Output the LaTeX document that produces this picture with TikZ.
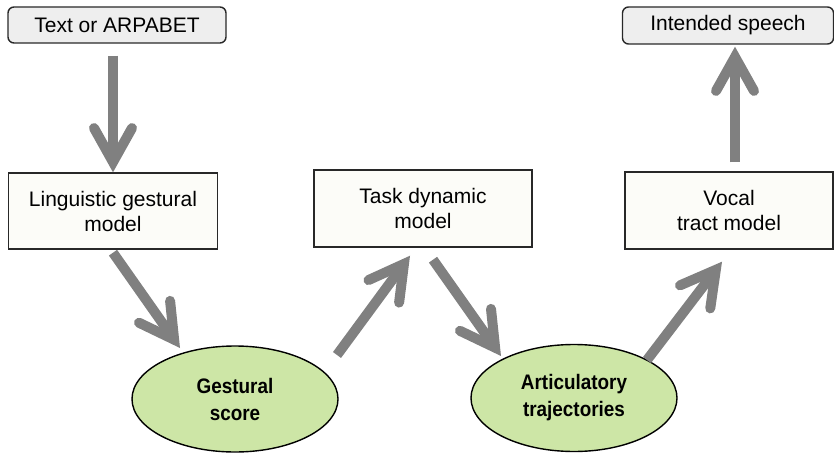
\documentclass[tikz,border=0pt]{standalone}
\usepackage{fontspec}
\setmainfont{Liberation Sans}
\newfontfamily\narrowsans[FakeStretch=0.9]{Liberation Sans}
\usetikzlibrary{shapes.geometric}
\usetikzlibrary{arrows.meta}
\usetikzlibrary{calc}

\definecolor{arrowgray}{RGB}{128,128,128}
\definecolor{scorefill}{RGB}{205,230,166}
\definecolor{boxfill}{RGB}{252,252,248}
\definecolor{termfill}{RGB}{238,238,238}
\definecolor{edgegray}{RGB}{40,40,40}

\tikzset{
  term/.style={draw=edgegray, line width=1.4pt, rounded corners=6pt, fill=termfill, inner sep=0pt, font=\fontsize{21}{25}\selectfont},
  model/.style={draw=edgegray, line width=1.4pt, fill=boxfill, align=center, inner sep=0pt, font=\fontsize{21}{25}\selectfont},
  score/.style={ellipse, draw=black, line width=1.4pt, fill=scorefill, align=center, inner sep=0pt, font=\narrowsans\bfseries\fontsize{21}{27}\selectfont},
  flow/.style={draw=arrowgray, line width=10pt, -{Straight Barb[length=34pt, width=38pt, line width=10pt, line cap=round, line join=miter]}}
}

\begin{document}
\begin{tikzpicture}[x=1pt, y=-1pt]
  \useasboundingbox (0,0) rectangle (834,454);
  % Boxes and ovals:
  \node[term, minimum width=218pt, minimum height=36pt] (textin) at (117,25) {Text or ARPABET};
  \node[term, minimum width=211pt, minimum height=37pt] (speech) at (728,25.5) {Intended speech};
  \node[model, minimum width=209pt, minimum height=76pt] (ling) at (113,211) {Linguistic gestural\\model};
  \node[model, minimum width=218pt, minimum height=77pt] (task) at (423,208.5) {Task dynamic\\model};
  \node[model, minimum width=208pt, minimum height=77pt] (vocal) at (729,210.5) {Vocal\\tract model};
  \node[score, minimum width=206pt, minimum height=106pt] (gest) at (235,399) {Gestural\\score};
  \node[score, minimum width=206pt, minimum height=107pt] (artic) at (574,398) {Articulatory\\trajectories};
  % Arrows:
  \draw[flow] ($(textin.south)+(-4,12)$) -- (ling.north);
  \draw[flow] ($(ling.south)+(0,3)$) -- ($(gest.center)+(-55,-51)$);
  \draw[flow] ($(gest.center)+(102,-44)$) -- ($(task.south)+(-13,8)$);
  \draw[flow] ($(task.south)+(10,12)$) -- ($(artic.center)+(-73,-42)$);
  \draw[flow] ($(artic.center)+(73,-38)$) -- ($(vocal.south)+(-7,12)$);
  \draw[flow] ($(vocal.north)+(6,-9)$) -- ($(speech.south)+(7,2)$);
\end{tikzpicture}
\end{document}
